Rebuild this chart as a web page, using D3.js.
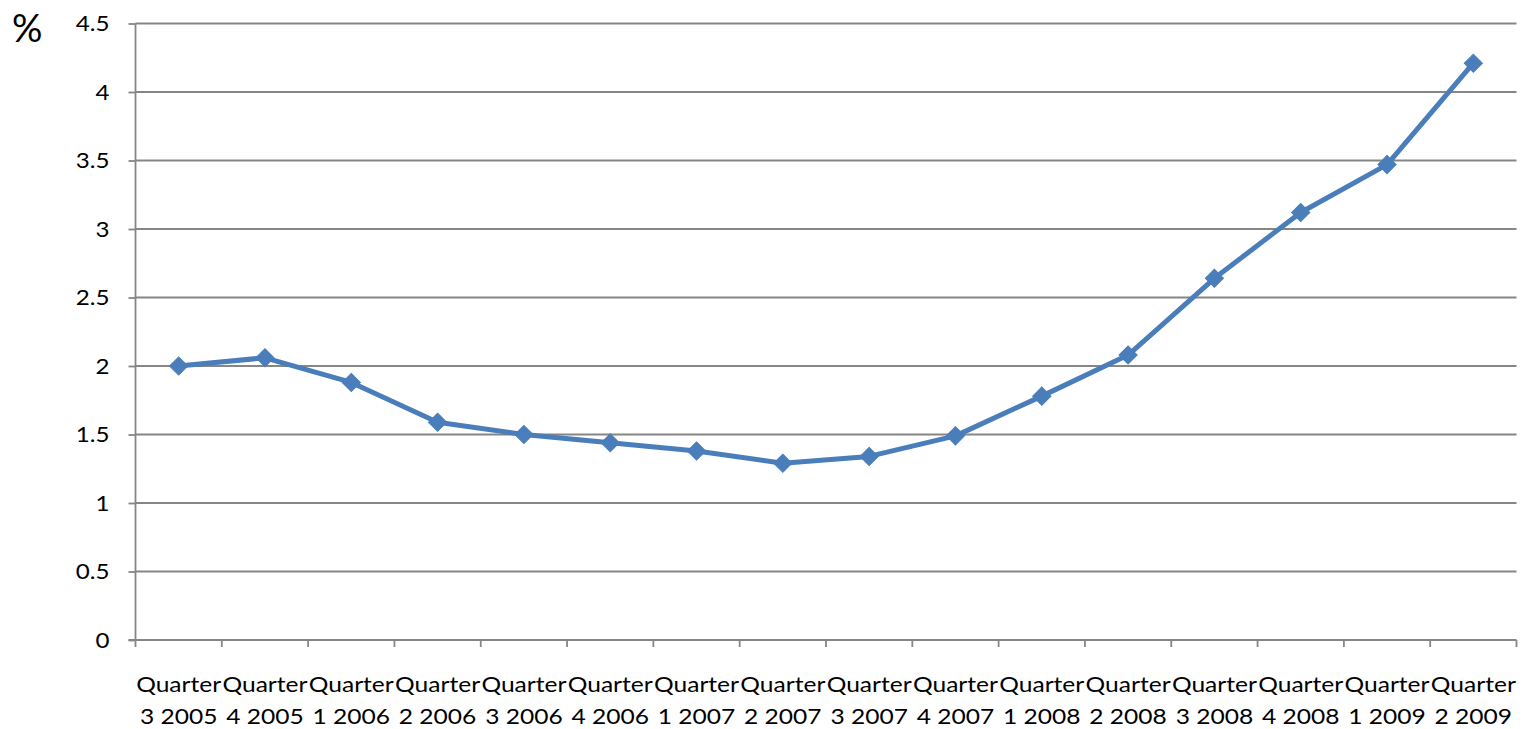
<!DOCTYPE html>
<html><head><meta charset="utf-8">
<script src="https://cdn.jsdelivr.net/npm/d3@7/dist/d3.min.js"></script>
<style>body{margin:0;background:#fff;}svg{display:block;}</style>
</head><body>
<script>
const quarters = ["3 2005","4 2005","1 2006","2 2006","3 2006","4 2006","1 2007","2 2007","3 2007","4 2007","1 2008","2 2008","3 2008","4 2008","1 2009","2 2009"];
const values = [2.00,2.06,1.88,1.59,1.50,1.44,1.38,1.29,1.34,1.49,1.78,2.08,2.64,3.12,3.47,4.21];
const yTicks = [0,0.5,1,1.5,2,2.5,3,3.5,4,4.5];
const yUnit = "%";

const W=1524,H=729;
const pL=135.5,pR=1516.5,pT=23.5,pB=640;
const svg=d3.select("body").append("svg").attr("width",W).attr("height",H);
const x=d3.scaleBand().domain(quarters).range([pL,pR]);
const y=d3.scaleLinear().domain([0,4.5]).range([pB,pT]);
const font="Lato, 'Open Sans', sans-serif";
const grey="#868686";

// gridlines
svg.append("g").selectAll("line").data(yTicks.filter(d=>d>0)).join("line")
  .attr("x1",pL).attr("x2",pR).attr("y1",d=>y(d)).attr("y2",d=>y(d))
  .attr("stroke",grey).attr("stroke-width",1.8);

// y axis
const ya=svg.append("g").attr("transform",`translate(${pL},0)`)
  .call(d3.axisLeft(y).tickValues(yTicks).tickFormat(d3.format("")).tickSize(7).tickPadding(18));
ya.selectAll("path,line").attr("stroke",grey).attr("stroke-width",1.8);
ya.select(".domain").attr("d",`M0,${pT}V${pB}`);
ya.selectAll(".tick text").attr("font-family",font).attr("font-size",21).attr("fill","#000")
  .attr("x",0).attr("dy","0.34em").attr("transform","translate(-26,0) scale(1.15,1)");

// x axis
const xa=svg.append("g").attr("transform",`translate(0,${pB})`);
xa.append("line").attr("x1",pL-7).attr("x2",pR).attr("y1",0).attr("y2",0).attr("stroke",grey).attr("stroke-width",1.8);
const bounds=quarters.map(q=>x(q)).concat([pR]);
xa.selectAll("line.tk").data(bounds).join("line").attr("class","tk")
  .attr("x1",d=>d).attr("x2",d=>d).attr("y1",0).attr("y2",7).attr("stroke",grey).attr("stroke-width",1.8);
const lab=xa.selectAll("g.lab").data(quarters).join("g").attr("class","lab")
  .attr("transform",d=>`translate(${x(d)+x.bandwidth()/2},0) scale(1.17,1)`);
lab.append("text").attr("y",52).attr("text-anchor","middle").attr("font-family",font).attr("font-size",21).text("Quarter");
lab.append("text").attr("y",84).attr("text-anchor","middle").attr("font-family",font).attr("font-size",21).text(d=>d);

// unit
svg.append("text").attr("x",12).attr("y",42).attr("font-family",font).attr("font-size",38).text(yUnit);

// line
const cx=d=>x(d)+x.bandwidth()/2;
const line=d3.line().x((d,i)=>cx(quarters[i])).y(d=>y(d));
svg.append("path").datum(values).attr("d",line).attr("fill","none")
  .attr("stroke","#4a7ebb").attr("stroke-width",5).attr("stroke-linejoin","round");
svg.append("g").selectAll("path").data(values).join("path")
  .attr("d",d3.symbol(d3.symbolSquare,165)())
  .attr("transform",(d,i)=>`translate(${cx(quarters[i])},${y(d)}) rotate(45)`)
  .attr("fill","#4a7ebb").attr("stroke","#4a7ebb").attr("stroke-width",1);
</script>
</body></html>
